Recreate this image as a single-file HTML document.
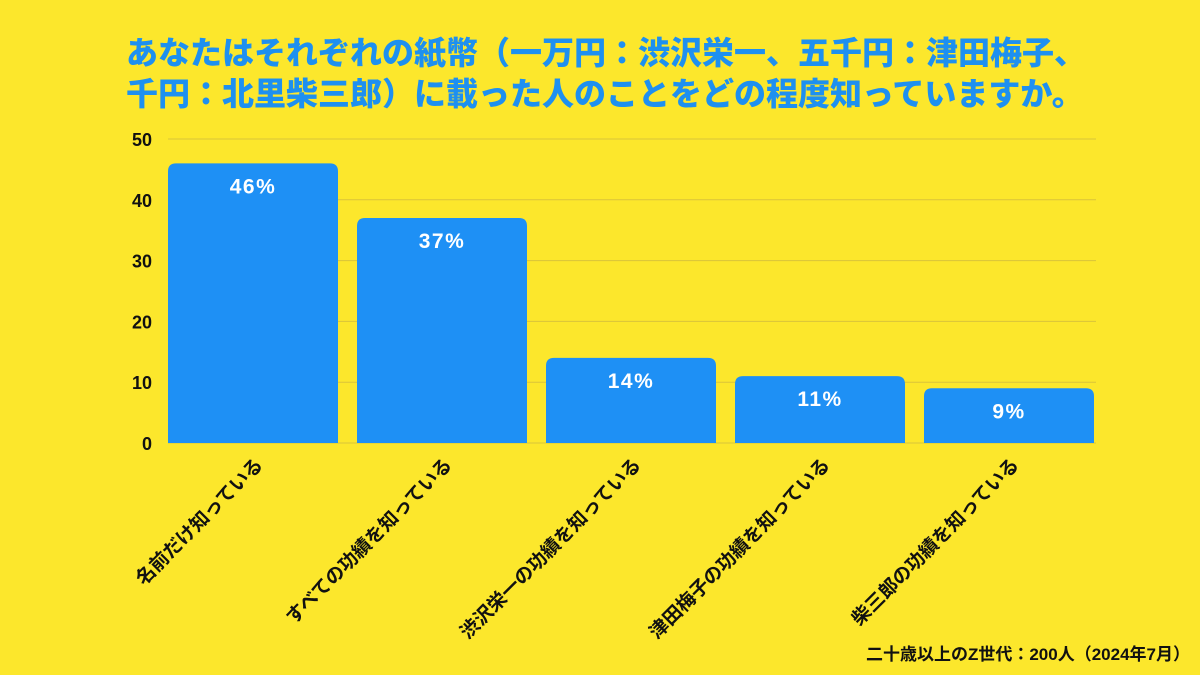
<!DOCTYPE html>
<html><head><meta charset="utf-8"><style>
body{margin:0;width:1200px;height:675px;background:#fce72c;overflow:hidden;font-family:"Liberation Sans","Noto Sans CJK JP",sans-serif}
#title{position:absolute;left:126px;top:33px;font-size:32px;line-height:41px;font-weight:900;color:#1e90f0;letter-spacing:0px;white-space:nowrap}
#note{position:absolute;right:10px;top:640px;font-size:17px;font-weight:bold;color:#111}
svg{position:absolute;left:0;top:0}
</style></head><body>
<div id="title">あなたはそれぞれの紙幣（一万円：渋沢栄一、五千円：津田梅子、<br>千円：北里柴三郎）に載った人のことをどの程度知っていますか。</div>
<div id="note">二十歳以上のZ世代：200人（2024年7月）</div>
<svg id="chart" width="1200" height="675"></svg>
<script>
const categories=["名前だけ知っている","すべての功績を知っている","渋沢栄一の功績を知っている","津田梅子の功績を知っている","柴三郎の功績を知っている"];
const values=[46,37,14,11,9];
const valueLabels=["46%","37%","14%","11%","9%"];
const yTicks=[0,10,20,30,40,50];
const svg=document.getElementById('chart');
const NS='http://www.w3.org/2000/svg';
const x0=168,x1=1096,yTop=139,yBot=443,yMax=50;
const y=v=>yBot-(v/yMax)*(yBot-yTop);
const band=189,bw=170;
function mk(t,a){const e=document.createElementNS(NS,t);for(const k in a)e.setAttribute(k,a[k]);svg.appendChild(e);return e;}
yTicks.forEach(t=>{
 const g=mk('line',{x1:x0,x2:x1,y1:y(t),y2:y(t),stroke:'#d9c43a','stroke-width':1});
 
 
 const l=mk('text',{x:152,y:y(t)+7,'text-anchor':'end','font-size':18,'font-weight':'bold',fill:'#111'});
 l.textContent=t;
 
 
});
categories.forEach((c,i)=>{
 const bx=x0+i*band,cx=bx+bw/2,top=y(values[i]),r=8;
 const p=mk('path',{d:`M${bx},${yBot}V${top+r}Q${bx},${top} ${bx+r},${top}H${bx+bw-r}Q${bx+bw},${top} ${bx+bw},${top+r}V${yBot}Z`,fill:'#1e90f5'});
 
 
 const v=mk('text',{x:cx,y:top+30,'text-anchor':'middle','font-size':21,'font-weight':'bold',fill:'#fff','letter-spacing':1.5});
 v.textContent=valueLabels[i];
 
 
 const lx=cx+11,ly=466;
 const t=mk('text',{x:lx,y:ly,'text-anchor':'end','font-size':19,'font-weight':'bold',fill:'#111',transform:`rotate(-45 ${lx} ${ly})`});
 t.textContent=c;
 
 
});
</script>
</body></html>
